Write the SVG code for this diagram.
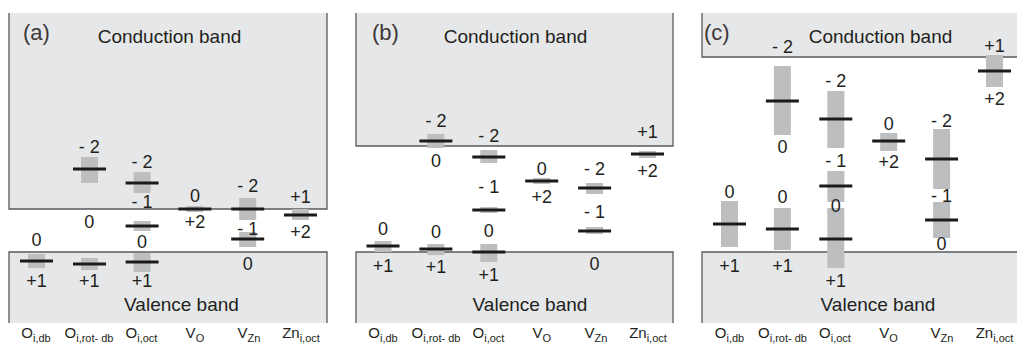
<svg xmlns="http://www.w3.org/2000/svg" width="1017" height="350" viewBox="0 0 1017 350">
<style>
.band{fill:#e6e7e8}
.edge{stroke:#58595b;stroke-width:1.3;fill:none}
.bar{fill:#bcbec0}
.lvl{stroke:#1a1a1a;stroke-width:3}
text{font-family:"Liberation Sans",Arial,sans-serif;fill:#231f20}
.l{font-size:18px;text-anchor:middle}
.bt{font-size:19px;text-anchor:middle}
.tag{font-size:22px;fill:#3b3838}
.nm{font-size:15px;text-anchor:middle}
.sb{font-size:11px}
</style>
<rect width="1017" height="350" fill="#fff"/>

<!-- Panel (a) -->
<g id="panel-a">
  <g id="a-bands">
    <rect class="band" x="9" y="13" width="318" height="196"/>
    <path class="edge" d="M9,13 V209 H327 V13"/>
    <rect class="band" x="9" y="252" width="318" height="71"/>
    <path class="edge" d="M9,323 V252 H327 V323"/>
    <text class="tag" x="23" y="40">(a)</text>
    <text class="bt" x="169.5" y="43">Conduction band</text>
    <text class="bt" x="181.5" y="311">Valence band</text>
  </g>
  <g id="a-oidb">
    <rect class="bar" x="28" y="254" width="17" height="14"/>
    <line class="lvl" x1="20" y1="261" x2="53" y2="261"/>
    <text class="l" x="36.5" y="246">0</text>
    <text class="l" x="36.5" y="287">+1</text>
    <text class="nm" x="36" y="338">O<tspan class="sb" dy="4">i,db</tspan></text>
  </g>
  <g id="a-oirotdb">
    <rect class="bar" x="81" y="157" width="17" height="26"/>
    <line class="lvl" x1="73" y1="169" x2="106" y2="169"/>
    <text class="l" x="89.3" y="153">- 2</text>
    <text class="l" x="89.3" y="228">0</text>
    <rect class="bar" x="81" y="258" width="17" height="12"/>
    <line class="lvl" x1="73" y1="264" x2="106" y2="264"/>
    <text class="l" x="89.3" y="287">+1</text>
    <text class="nm" x="89" y="338">O<tspan class="sb" dy="4">i,rot- db</tspan></text>
  </g>
  <g id="a-oioct">
    <rect class="bar" x="133.6" y="172" width="17" height="21"/>
    <line class="lvl" x1="125.6" y1="183" x2="158.6" y2="183"/>
    <text class="l" x="142.1" y="168">- 2</text>
    <text class="l" x="142.1" y="208">- 1</text>
    <rect class="bar" x="133.6" y="221" width="17" height="10"/>
    <line class="lvl" x1="125.6" y1="226" x2="158.6" y2="226"/>
    <text class="l" x="142.1" y="248">0</text>
    <rect class="bar" x="133.6" y="253" width="17" height="19"/>
    <line class="lvl" x1="125.6" y1="262" x2="158.6" y2="262"/>
    <text class="l" x="142.1" y="287">+1</text>
    <text class="nm" x="141.5" y="338">O<tspan class="sb" dy="4">i,oct</tspan></text>
  </g>
  <g id="a-vo">
    <rect class="bar" x="186.4" y="206" width="17" height="6"/>
    <line class="lvl" x1="178.4" y1="209" x2="211.4" y2="209"/>
    <text class="l" x="194.9" y="202">0</text>
    <text class="l" x="194.9" y="228">+2</text>
    <text class="nm" x="194.9" y="338">V<tspan class="sb" dy="4">O</tspan></text>
  </g>
  <g id="a-vzn">
    <rect class="bar" x="239.2" y="198" width="17" height="22"/>
    <line class="lvl" x1="231.2" y1="209" x2="264.2" y2="209"/>
    <text class="l" x="247.7" y="192">- 2</text>
    <rect class="bar" x="239.2" y="232" width="17" height="15"/>
    <line class="lvl" x1="231.2" y1="239" x2="264.2" y2="239"/>
    <text class="l" x="247.7" y="235">- 1</text>
    <text class="l" x="247.7" y="270">0</text>
    <text class="nm" x="249" y="338">V<tspan class="sb" dy="4">Zn</tspan></text>
  </g>
  <g id="a-zn">
    <rect class="bar" x="292" y="209" width="17" height="11"/>
    <line class="lvl" x1="284" y1="215" x2="317" y2="215"/>
    <text class="l" x="300.5" y="203">+1</text>
    <text class="l" x="300.5" y="238">+2</text>
    <text class="nm" x="301" y="338">Zn<tspan class="sb" dy="4">i,oct</tspan></text>
  </g>
</g>

<!-- Panel (b) -->
<g id="panel-b">
  <g id="b-bands">
    <rect class="band" x="356" y="13" width="317" height="133"/>
    <path class="edge" d="M356,13 V146 H673 V13"/>
    <rect class="band" x="356" y="252" width="317" height="71"/>
    <path class="edge" d="M356,323 V252 H673 V323"/>
    <text class="tag" x="372" y="40">(b)</text>
    <text class="bt" x="515.5" y="43">Conduction band</text>
    <text class="bt" x="530" y="311">Valence band</text>
  </g>
  <g id="b-oidb">
    <rect class="bar" x="374.5" y="241" width="17" height="11"/>
    <line class="lvl" x1="366.5" y1="246" x2="399.5" y2="246"/>
    <text class="l" x="383" y="235">0</text>
    <text class="l" x="383" y="272">+1</text>
    <text class="nm" x="383" y="338">O<tspan class="sb" dy="4">i,db</tspan></text>
  </g>
  <g id="b-oirotdb">
    <rect class="bar" x="427.4" y="134" width="17" height="14"/>
    <line class="lvl" x1="419.4" y1="141" x2="452.4" y2="141"/>
    <text class="l" x="435.9" y="127">- 2</text>
    <text class="l" x="435.9" y="167">0</text>
    <rect class="bar" x="427.4" y="244" width="17" height="11"/>
    <line class="lvl" x1="419.4" y1="249" x2="452.4" y2="249"/>
    <text class="l" x="435.9" y="238">0</text>
    <text class="l" x="435.9" y="273">+1</text>
    <text class="nm" x="436" y="338">O<tspan class="sb" dy="4">i,rot- db</tspan></text>
  </g>
  <g id="b-oioct">
    <rect class="bar" x="480.3" y="150" width="17" height="13"/>
    <line class="lvl" x1="472.3" y1="157" x2="505.3" y2="157"/>
    <text class="l" x="488.8" y="142">- 2</text>
    <text class="l" x="488.8" y="193">- 1</text>
    <rect class="bar" x="480.3" y="207" width="17" height="6"/>
    <line class="lvl" x1="472.3" y1="210" x2="505.3" y2="210"/>
    <text class="l" x="488.8" y="237">0</text>
    <rect class="bar" x="480.3" y="244" width="17" height="18"/>
    <line class="lvl" x1="472.3" y1="252" x2="505.3" y2="252"/>
    <text class="l" x="488.8" y="281">+1</text>
    <text class="nm" x="488.5" y="338">O<tspan class="sb" dy="4">i,oct</tspan></text>
  </g>
  <g id="b-vo">
    <rect class="bar" x="533.2" y="178" width="17" height="6"/>
    <line class="lvl" x1="525.2" y1="181" x2="558.2" y2="181"/>
    <text class="l" x="541.7" y="175">0</text>
    <text class="l" x="541.7" y="203">+2</text>
    <text class="nm" x="541.7" y="338">V<tspan class="sb" dy="4">O</tspan></text>
  </g>
  <g id="b-vzn">
    <rect class="bar" x="586.1" y="183" width="17" height="11"/>
    <line class="lvl" x1="578.1" y1="188" x2="611.1" y2="188"/>
    <text class="l" x="594.6" y="175">- 2</text>
    <text class="l" x="594.6" y="218">- 1</text>
    <rect class="bar" x="586.1" y="227" width="17" height="7"/>
    <line class="lvl" x1="578.1" y1="231" x2="611.1" y2="231"/>
    <text class="l" x="594.6" y="270">0</text>
    <text class="nm" x="596" y="338">V<tspan class="sb" dy="4">Zn</tspan></text>
  </g>
  <g id="b-zn">
    <rect class="bar" x="639" y="151" width="17" height="7"/>
    <line class="lvl" x1="631" y1="154" x2="664" y2="154"/>
    <text class="l" x="647.5" y="138">+1</text>
    <text class="l" x="647.5" y="177">+2</text>
    <text class="nm" x="648" y="338">Zn<tspan class="sb" dy="4">i,oct</tspan></text>
  </g>
</g>

<!-- Panel (c) -->
<g id="panel-c">
  <g id="c-bands">
    <rect class="band" x="702" y="13" width="320" height="44"/>
    <path class="edge" d="M702,13 V57 H1022"/>
    <rect class="band" x="702" y="252" width="320" height="71"/>
    <path class="edge" d="M702,323 V252 H1022"/>
    <text class="tag" x="704" y="40">(c)</text>
    <text class="bt" x="880.5" y="43">Conduction band</text>
    <text class="bt" x="878" y="311">Valence band</text>
  </g>
  <g id="c-oidb">
    <rect class="bar" x="721" y="201" width="17" height="46"/>
    <line class="lvl" x1="713" y1="224" x2="746" y2="224"/>
    <text class="l" x="729.5" y="198">0</text>
    <text class="l" x="729.5" y="272">+1</text>
    <text class="nm" x="729.5" y="338">O<tspan class="sb" dy="4">i,db</tspan></text>
  </g>
  <g id="c-oirotdb">
    <rect class="bar" x="773.9" y="66" width="17" height="69"/>
    <line class="lvl" x1="765.9" y1="101" x2="798.9" y2="101"/>
    <text class="l" x="782.4" y="53">- 2</text>
    <text class="l" x="782.4" y="153">0</text>
    <rect class="bar" x="773.9" y="208" width="17" height="42"/>
    <line class="lvl" x1="765.9" y1="229" x2="798.9" y2="229"/>
    <text class="l" x="782.4" y="203">0</text>
    <text class="l" x="782.4" y="272">+1</text>
    <text class="nm" x="782.5" y="338">O<tspan class="sb" dy="4">i,rot- db</tspan></text>
  </g>
  <g id="c-oioct">
    <rect class="bar" x="827.3" y="91" width="17" height="57"/>
    <line class="lvl" x1="819.3" y1="119" x2="852.3" y2="119"/>
    <text class="l" x="835.8" y="87">- 2</text>
    <text class="l" x="835.8" y="167">- 1</text>
    <rect class="bar" x="827.3" y="171" width="17" height="31"/>
    <line class="lvl" x1="819.3" y1="186" x2="852.3" y2="186"/>
    <rect class="bar" x="827.3" y="208" width="17" height="60"/>
    <line class="lvl" x1="819.3" y1="239" x2="852.3" y2="239"/>
    <text class="l" x="835.8" y="212">0</text>
    <text class="l" x="835.8" y="287">+1</text>
    <text class="nm" x="835" y="338">O<tspan class="sb" dy="4">i,oct</tspan></text>
  </g>
  <g id="c-vo">
    <rect class="bar" x="880.2" y="133" width="17" height="18"/>
    <line class="lvl" x1="872.2" y1="141" x2="905.2" y2="141"/>
    <text class="l" x="888.7" y="130">0</text>
    <text class="l" x="888.7" y="168">+2</text>
    <text class="nm" x="888.5" y="338">V<tspan class="sb" dy="4">O</tspan></text>
  </g>
  <g id="c-vzn">
    <rect class="bar" x="933.1" y="129" width="17" height="60"/>
    <line class="lvl" x1="925.1" y1="159" x2="958.1" y2="159"/>
    <text class="l" x="941.6" y="127">- 2</text>
    <rect class="bar" x="933.1" y="202" width="17" height="36"/>
    <line class="lvl" x1="925.1" y1="220" x2="958.1" y2="220"/>
    <text class="l" x="941.6" y="202">- 1</text>
    <text class="l" x="941.6" y="250">0</text>
    <text class="nm" x="942" y="338">V<tspan class="sb" dy="4">Zn</tspan></text>
  </g>
  <g id="c-zn">
    <rect class="bar" x="986" y="55" width="17" height="32"/>
    <line class="lvl" x1="978" y1="71" x2="1011" y2="71"/>
    <text class="l" x="994.5" y="52">+1</text>
    <text class="l" x="994.5" y="105">+2</text>
    <text class="nm" x="994.5" y="338">Zn<tspan class="sb" dy="4">i,oct</tspan></text>
  </g>
</g>
<g id="connectors"/>
</svg>
